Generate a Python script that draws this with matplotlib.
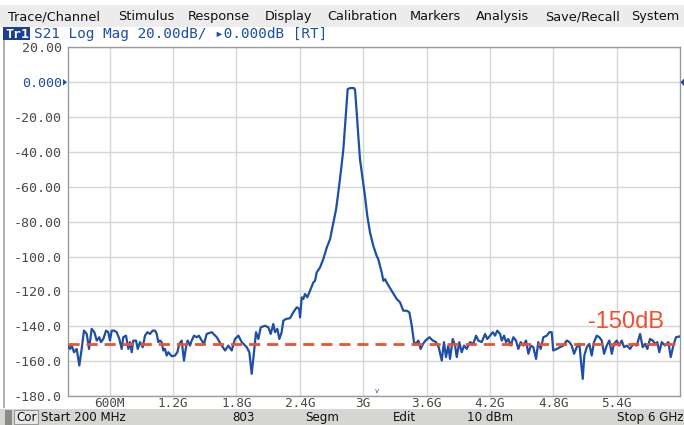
import matplotlib
matplotlib.use("Agg")
import matplotlib.pyplot as plt
from matplotlib.patches import Rectangle, Polygon

# S21 trace (GHz, dB)
freq_ghz = [
    0.200, 0.224, 0.240, 0.262, 0.287, 0.312, 0.334, 0.356, 0.382, 0.404,
    0.429, 0.454, 0.477, 0.501, 0.517, 0.539, 0.565, 0.586, 0.602, 0.619,
    0.640, 0.666, 0.691, 0.713, 0.728, 0.754, 0.776, 0.792, 0.808, 0.823,
    0.849, 0.865, 0.887, 0.912, 0.934, 0.956, 0.981, 1.007, 1.029, 1.045,
    1.060, 1.076, 1.092, 1.107, 1.123, 1.139, 1.155, 1.187, 1.218, 1.240,
    1.259, 1.281, 1.303, 1.322, 1.338, 1.360, 1.376, 1.398, 1.424, 1.445,
    1.471, 1.493, 1.518, 1.566, 1.613, 1.660, 1.692, 1.723, 1.755, 1.786,
    1.818, 1.850, 1.897, 1.922, 1.944, 1.966, 1.985, 2.007, 2.030, 2.070,
    2.102, 2.124, 2.149, 2.165, 2.187, 2.206, 2.228, 2.244, 2.269, 2.307,
    2.338, 2.371, 2.395, 2.402, 2.418, 2.433, 2.449, 2.471, 2.496, 2.528,
    2.544, 2.560, 2.591, 2.622, 2.655, 2.686, 2.711, 2.743, 2.764, 2.787,
    2.812, 2.828, 2.844, 2.853, 2.875, 2.913, 2.923, 2.939, 2.954, 2.970,
    2.996, 3.017, 3.039, 3.065, 3.096, 3.128, 3.143, 3.175, 3.191, 3.207,
    3.223, 3.270, 3.318, 3.349, 3.380, 3.412, 3.437, 3.460, 3.481, 3.500,
    3.522, 3.544, 3.567, 3.590, 3.627, 3.659, 3.690, 3.715, 3.744, 3.765,
    3.784, 3.806, 3.822, 3.848, 3.870, 3.886, 3.910, 3.933, 3.955, 3.980,
    4.012, 4.043, 4.069, 4.090, 4.122, 4.154, 4.175, 4.201, 4.227, 4.248,
    4.270, 4.296, 4.312, 4.334, 4.353, 4.374, 4.397, 4.422, 4.447, 4.469,
    4.492, 4.516, 4.542, 4.564, 4.587, 4.611, 4.637, 4.658, 4.681, 4.706,
    4.738, 4.763, 4.785, 4.800, 4.833, 4.864, 4.895, 4.927, 4.952, 4.975,
    4.997, 5.022, 5.047, 5.063, 5.079, 5.094, 5.117, 5.141, 5.164, 5.186,
    5.211, 5.236, 5.259, 5.281, 5.306, 5.331, 5.354, 5.375, 5.401, 5.426,
    5.448, 5.470, 5.496, 5.527, 5.558, 5.590, 5.622, 5.647, 5.669, 5.691,
    5.716, 5.742, 5.764, 5.785, 5.804, 5.827, 5.858, 5.890, 5.912, 5.937,
    5.962, 5.994, 6.000,
]
s21_db = [
    -151.1, -153.0, -151.1, -154.9, -153.0, -162.5, -153.0, -142.5, -144.4, -153.0,
    -141.5, -143.4, -148.2, -146.3, -149.1, -147.3, -142.5, -143.4, -148.2, -142.5,
    -142.5, -143.4, -147.3, -153.0, -146.3, -145.4, -153.0, -149.1, -154.9, -148.2,
    -148.2, -153.0, -149.1, -152.0, -145.4, -143.4, -144.4, -142.5, -142.5, -144.4,
    -149.1, -148.2, -149.1, -153.9, -153.0, -156.8, -154.9, -157.2, -156.8, -154.9,
    -150.1, -148.2, -159.7, -152.0, -148.2, -151.1, -148.2, -145.4, -146.3, -145.4,
    -148.2, -150.0, -144.4, -143.4, -146.3, -151.1, -153.9, -151.1, -153.9, -147.3,
    -145.4, -149.1, -152.0, -154.9, -167.3, -154.9, -143.4, -147.3, -140.6, -139.7,
    -140.6, -144.4, -138.7, -143.4, -141.5, -147.3, -143.4, -136.8, -135.8, -135.4,
    -132.0, -129.1, -130.1, -134.9, -123.4, -124.4, -121.5, -123.4, -119.7, -114.9,
    -113.9, -109.1, -106.3, -101.5, -94.9, -90.1, -82.5, -73.0, -63.4, -52.0,
    -38.7, -25.4, -12.0, -4.0, -3.4, -3.4, -4.4, -17.7, -31.1, -44.4,
    -55.8, -65.4, -76.8, -86.3, -93.9, -99.7, -101.5, -109.1, -113.9, -113.0,
    -114.9, -119.7, -124.4, -126.3, -131.1, -131.1, -132.0, -139.7, -149.1, -150.1,
    -148.2, -153.0, -150.1, -148.2, -146.3, -148.2, -149.1, -152.0, -159.7, -149.1,
    -157.7, -151.1, -158.7, -147.3, -151.1, -157.7, -149.1, -154.9, -151.1, -153.0,
    -149.1, -150.1, -145.4, -148.2, -149.1, -144.4, -147.3, -145.4, -143.4, -145.4,
    -142.5, -144.4, -148.2, -145.4, -149.1, -147.3, -151.1, -146.3, -148.2, -153.0,
    -149.1, -151.1, -148.2, -155.8, -151.1, -152.0, -158.7, -149.1, -153.0, -146.3,
    -145.4, -143.4, -143.4, -153.9, -153.0, -152.0, -151.1, -148.2, -149.1, -151.1,
    -155.8, -152.0, -150.1, -160.6, -170.2, -156.8, -152.0, -150.1, -156.8, -149.1,
    -145.4, -146.3, -148.2, -155.8, -151.1, -148.2, -155.8, -150.1, -148.2, -151.1,
    -148.2, -152.0, -151.1, -153.0, -150.1, -151.1, -144.4, -152.0, -150.1, -153.0,
    -147.3, -148.2, -150.1, -149.1, -154.9, -149.1, -151.1, -149.1, -157.7, -151.1,
    -146.3, -145.8, -146.0,
]

ref_line_db = -150
x_ticks = [0.6, 1.2, 1.8, 2.4, 3.0, 3.6, 4.2, 4.8, 5.4]
x_labels = ["600M", "1.2G", "1.8G", "2.4G", "3G", "3.6G", "4.2G", "4.8G", "5.4G"]
y_ticks = [20, 0, -20, -40, -60, -80, -100, -120, -140, -160, -180]
y_labels = ["20.00", "0.000", "-20.00", "-40.00", "-60.00", "-80.00",
            "-100.0", "-120.0", "-140.0", "-160.0", "-180.0"]
menu_items = ["Trace/Channel", "Stimulus", "Response", "Display", "Calibration",
              "Markers", "Analysis", "Save/Recall", "System"]
menu_x = [8, 118, 188, 265, 327, 410, 476, 545, 631]
status_items = ["Start 200 MHz", "803", "Segm", "Edit", "10 dBm", "Stop 6 GHz"]
status_x = [41, 232, 305, 393, 467, 617]

W, H = 684, 425
BLUE = "#1d4fa6"
TXT = "#4a4a4a"


def fx(x):
    return x / W


def fy(y):
    return 1 - y / H


fig = plt.figure(figsize=(W / 100, H / 100), dpi=100)
fig.patch.set_facecolor("white")

# menu bar
fig.add_artist(Rectangle((0, fy(27)), 1, (27 - 5) / H, transform=fig.transFigure,
                         facecolor="#ececec", edgecolor="none"))
for name, x in zip(menu_items, menu_x):
    fig.text(fx(x), fy(16.5), name, fontsize=9.3, family="DejaVu Sans",
             color="#111111", va="center", ha="left")

# trace header
fig.add_artist(Rectangle((fx(3), fy(40)), 27 / W, 13 / H, transform=fig.transFigure,
                         facecolor="#1d3f8f", edgecolor="none"))
fig.text(fx(5), fy(34), "Tr1", fontsize=9.5, family="DejaVu Sans Mono",
         weight="bold", color="white", va="center", ha="left")
fig.text(fx(34), fy(34), "S21 Log Mag 20.00dB/ \u25b80.000dB [RT]", fontsize=10.4,
         family="DejaVu Sans Mono", color=BLUE, va="center", ha="left")

# left frame line
fig.add_artist(Rectangle((fx(2.5), fy(408)), 2 / W, (408 - 40) / H,
                         transform=fig.transFigure, facecolor="#b0b0b0", edgecolor="none"))

# status bar
fig.add_artist(Rectangle((0, 0), 1, 16 / H, transform=fig.transFigure,
                         facecolor="#d5d5d2", edgecolor="none"))
fig.add_artist(Rectangle((fx(5), fy(425)), 7 / W, 15 / H, transform=fig.transFigure,
                         facecolor="#8a8a8a", edgecolor="none"))
fig.add_artist(Rectangle((fx(14), fy(424)), 24 / W, 14 / H, transform=fig.transFigure,
                         facecolor="#e8e8e6", edgecolor="#9a9a9a", linewidth=0.8))
fig.text(fx(16), fy(417.5), "Cor", fontsize=8.6, family="DejaVu Sans",
         color="#111111", va="center", ha="left")
for name, x in zip(status_items, status_x):
    fig.text(fx(x), fy(417.5), name, fontsize=8.6, family="DejaVu Sans",
             color="#111111", va="center", ha="left")

# plot area
ax = fig.add_axes([fx(67.5), fy(396), (680 - 67.5) / W, (396 - 47.3) / H])
ax.plot(freq_ghz, s21_db, color=BLUE, linewidth=1.6, zorder=3)
ax.axhline(ref_line_db, color="#f0502d", linewidth=2, linestyle=(0, (4, 2.5)), zorder=4)
ax.text(5.49, -137.8, "-150dB", fontsize=17, family="Liberation Sans",
        color="#f0502d", ha="center", va="center")

ax.set_xlim(0.2, 6.0)
ax.set_ylim(-180, 20)
ax.set_xticks(x_ticks)
ax.set_xticklabels(x_labels)
ax.set_yticks(y_ticks)
ax.set_yticklabels(y_labels)
ax.tick_params(length=0, labelsize=9.6, labelcolor=TXT, pad=4)
ax.tick_params(axis="x", labelsize=9.2, pad=0.5)
for lab in ax.get_xticklabels() + ax.get_yticklabels():
    lab.set_family("DejaVu Sans Mono")
ax.get_yticklabels()[1].set_color(BLUE)
ax.grid(True, color="#d6d6d6", linewidth=1)
ax.set_axisbelow(True)
for sp in ax.spines.values():
    sp.set_color("#9a9a9a")
    sp.set_linewidth(1)

# reference level pointers and stimulus marker
fig.add_artist(Polygon([(fx(680.5), fy(82.3)), (fx(684), fy(78.5)), (fx(684), fy(86))],
                       closed=True, transform=fig.transFigure,
                       facecolor=BLUE, edgecolor="none"))
fig.add_artist(Polygon([(fx(63), fy(79)), (fx(67), fy(82.3)), (fx(63), fy(85.5))],
                       closed=True, transform=fig.transFigure,
                       facecolor=BLUE, edgecolor="none"))
fig.text(fx(377), fy(391), "v", fontsize=5, color=BLUE, ha="center", va="center")

fig.savefig("out.png", dpi=100)
